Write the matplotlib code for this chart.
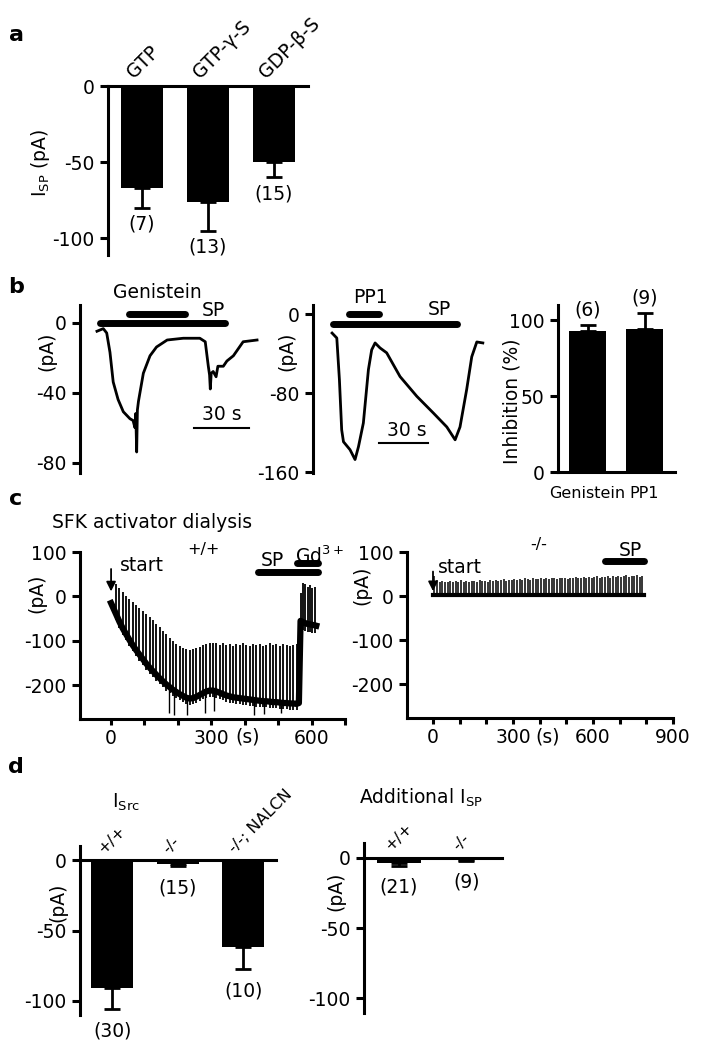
import numpy as np
import matplotlib
matplotlib.use("Agg")
import matplotlib.pyplot as plt

plt.rcParams['font.family'] = ['DejaVu Sans']
plt.rcParams['mathtext.default'] = 'regular'
plt.rcParams['axes.unicode_minus'] = False
plt.rcParams['font.size'] = 13.5

# ---------------- data ----------------
# a: I_SP with different G-protein nucleotides
a_cat = ['GTP', 'GTP-γ-S', 'GDP-β-S']
a_mean = [-67, -76.5, -50]
a_sem = [13, 18.5, 10]
a_n = ['(7)', '(13)', '(15)']

# b: example traces (time in s, current in pA)
gen_t = [0, 3.5, 5.4, 7.2, 9, 11.7, 14.6, 18.3, 20, 21, 21.5, 22, 22.4, 23, 23.5, 25.7, 29.4,
         33, 38.9, 47.8, 57, 60, 61.7, 62.4, 62.8, 63.3, 64.4, 66, 67, 70, 72, 75.6, 81, 88.7]
gen_i = [-5, -3.5, -6, -17, -34, -44, -51, -55, -56, -60, -52, -74, -50, -45, -42, -29, -19,
         -14, -10, -9, -9, -11, -25, -30, -38, -29, -28, -31, -25, -25, -22, -19, -11, -10]
gen_drug = [17.8, 48.9]
gen_sp = [1.7, 71]

pp1_t = [0, 2.9, 4.5, 5.9, 7, 11, 14.1, 16.2, 19.2, 22.3, 24.3, 26.4, 29.4, 33.5, 41.7, 52,
         62.2, 70.4, 75.5, 78.5, 82.6, 85.7, 88.8, 92.5]
pp1_i = [-19, -24, -66, -117, -129, -137, -147, -134, -110, -56, -36, -29, -34, -39, -63, -83,
         -100, -114, -127, -114, -76, -43, -28, -29]
pp1_drug = [10.4, 28.8]
pp1_sp = [0.6, 76.7]

inh_cat = ['Genistein', 'PP1']
inh_mean = [93, 94]
inh_sem = [4, 11]
inh_n = ['(6)', '(9)']

# c: SFK activator dialysis, +/+ (per test pulse: time, holding baseline, pulse peak)
wt_t = [15, 25, 35, 45, 55, 65, 75, 85, 95, 105, 115, 125, 135, 145, 155, 165, 175, 185, 195,
        205, 215, 225, 235, 245, 255, 265, 275, 285, 295, 305, 315, 325, 335, 345, 355, 365,
        375, 385, 395, 405, 415, 425, 435, 445, 455, 465, 475, 485, 495, 505, 515, 525, 535,
        545, 555]
wt_base = [-40, -57, -72, -85, -98, -110, -121, -131, -141, -151, -160, -168, -176, -184, -191,
           -198, -204, -210, -215, -220, -224, -228, -230, -229, -226, -222, -218, -214, -212,
           -212, -214, -217, -220, -223, -225, -227, -228, -229, -230, -231, -232, -233, -234,
           -235, -236, -236, -237, -238, -238, -239, -240, -240, -241, -241, -242]
wt_top = [28, 18, 10, 2, -6, -13, -20, -27, -33, -39, -46, -53, -61, -69, -77, -85, -93, -100,
          -107, -112, -116, -119, -121, -118, -116, -113, -110, -107, -105, -104, -106, -109,
          -106, -110, -107, -111, -108, -110, -106, -109, -112, -108, -110, -107, -111, -109,
          -106, -110, -108, -111, -107, -109, -112, -110, -108]
wt_dip_t = [172, 187, 227, 282, 307, 427, 457, 507]
wt_dip_i = [-262, -268, -266, -262, -258, -266, -264, -262]
wt_start = [0, -15]
gd_t = [562, 567, 574, 581, 588, 595, 602, 609, 614]
gd_base = [-240, -55, -58, -60, -62, -63, -64, -65, -66]
gd_spk_t = [567, 574, 581, 588, 595, 602, 609]
gd_top = [8, 31, 28, 22, 26, 20, 22]
wt_sp = [439, 618]
wt_gd = [555, 618]

# c: -/-
ko_t = [5, 15, 25, 35, 45, 55, 65, 75, 85, 95, 105, 115, 125, 135, 145, 155, 165, 175, 185, 195,
        205, 215, 225, 235, 245, 255, 265, 275, 285, 295, 305, 315, 325, 335, 345, 355, 365, 375,
        385, 395, 405, 415, 425, 435, 445, 455, 465, 475, 485, 495, 505, 515, 525, 535, 545, 555,
        565, 575, 585, 595, 605, 615, 625, 635, 645, 655, 665, 675, 685, 695, 705, 715, 725, 735,
        745, 755, 765, 775, 785]
ko_top = [45, 36, 33, 34, 32, 33, 35, 32, 34, 33, 36, 33, 34, 32, 35, 34, 33, 36, 34, 35, 33, 36,
          35, 37, 34, 36, 38, 35, 37, 36, 38, 36, 39, 37, 40, 38, 37, 40, 38, 39, 41, 38, 40, 39,
          41, 40, 38, 42, 40, 41, 39, 42, 40, 43, 41, 40, 43, 42, 44, 41, 43, 45, 42, 44, 43, 46,
          42, 45, 44, 46, 43, 45, 47, 44, 46, 45, 47, 44, 46]
ko_base = 2
ko_span = [0, 790]
ko_sp = [645, 790]

# d: I_Src and additional I_SP
src_cat = ['+/+', '-/-', '-/-; NALCN']
src_mean = [-90.5, -2.5, -62]
src_sem = [15, 1.5, 15.5]
src_n = ['(30)', '(15)', '(10)']

add_cat = ['+/+', '-/-']
add_mean = [-3.5, -1.5]
add_sem = [2.5, 0.8]
add_n = ['(21)', '(9)']

# ---------------- figure ----------------
W, H = 707, 1050
fig = plt.figure(figsize=(W / 100, H / 100), dpi=100)
LW = 2.2
FS = 13.5


def box(x0, y0, x1, y1):
    return fig.add_axes([x0 / W, 1 - y1 / H, (x1 - x0) / W, (y1 - y0) / H])


def ftext(x, y, s, **kw):
    kw.setdefault('ha', 'center')
    kw.setdefault('va', 'center')
    return fig.text(x / W, 1 - y / H, s, **kw)


def style(ax, bottom=False):
    ax.spines['top'].set_visible(False)
    ax.spines['right'].set_visible(False)
    ax.spines['bottom'].set_visible(bottom)
    ax.spines['left'].set_linewidth(LW)
    ax.spines['bottom'].set_linewidth(LW)
    ax.tick_params(axis='y', width=LW, length=5.5, pad=4, labelsize=FS)
    ax.tick_params(axis='x', width=LW, length=4, pad=3.5, labelsize=FS)
    ax.patch.set_visible(False)


def neg_bars(ax, cats, mean, sem, n, gap, catfs, dx):
    x = np.arange(len(mean))
    ax.bar(x, mean, 0.64, color='k', zorder=2)
    ax.errorbar(x, mean, yerr=[sem, [0] * len(sem)], fmt='none', ecolor='k',
                elinewidth=2, capsize=6, capthick=2, zorder=2)
    for xi, m, s, lab in zip(x, mean, sem, n):
        ax.annotate(lab, (xi, m - s), xytext=(0, -gap), textcoords='offset points',
                    ha='center', va='top', fontsize=FS, annotation_clip=False)
    for xi, c in zip(x, cats):
        ax.annotate(c, (xi + dx, 0), xytext=(0, 3), textcoords='offset points',
                    rotation=45, rotation_mode='anchor', ha='left', va='bottom',
                    fontsize=catfs, annotation_clip=False)
    ax.axhline(0, color='k', lw=LW, clip_on=False, zorder=3)
    ax.set_xticks([])


def drug_bar(ax, span, y):
    ax.plot(span, [y, y], color='k', lw=5, solid_capstyle='round', clip_on=False)


# panel letters
for lab, y in zip('abcd', [35, 287, 499, 767]):
    ftext(16, y, lab, fontsize=16, fontweight='bold')

# ---- a
ax = box(108, 86, 308, 255)
style(ax)
neg_bars(ax, a_cat, a_mean, a_sem, a_n, 5, FS, -0.08)
ax.set_xlim(-0.515, 2.515)
ax.set_ylim(-111, 0)
ax.set_yticks([0, -50, -100])
ftext(41, 163, 'I$_{SP}$ (pA)', rotation=90, fontsize=FS)

# ---- b left trace
ax = box(80, 305, 263, 473)
style(ax)
ax.plot(gen_t, gen_i, color='k', lw=2.0)
drug_bar(ax, gen_drug, 5)
drug_bar(ax, gen_sp, 0)
ax.plot([54, 84], [-60.5, -60.5], color='k', lw=1.5)
ax.text(69, -58, '30 s', ha='center', va='bottom', fontsize=FS)
ax.text(33.6, 17, 'Genistein', ha='center', va='center', fontsize=FS)
ax.text(64.5, 7, 'SP', ha='center', va='center', fontsize=FS)
ax.set_xlim(-9.4, 92)
ax.set_ylim(-86, 10)
ax.set_yticks([0, -40, -80])
ax.set_xticks([])
ftext(47, 351, '(pA)', rotation=90, fontsize=FS)

# ---- b middle trace
ax = box(313, 305, 490, 473)
style(ax)
ax.plot(pp1_t, pp1_i, color='k', lw=2.0)
drug_bar(ax, pp1_drug, 0)
drug_bar(ax, pp1_sp, -10)
ax.plot([28.8, 58.9], [-130, -130], color='k', lw=1.5)
ax.text(46, -118, '30 s', ha='center', va='center', fontsize=FS)
ax.text(23.3, 17, 'PP1', ha='center', va='center', fontsize=FS)
ax.text(65.6, 5, 'SP', ha='center', va='center', fontsize=FS)
ax.set_xlim(-11.7, 96.9)
ax.set_ylim(-160.6, 9.4)
ax.set_yticks([0, -80, -160])
ax.set_xticks([])
ftext(287, 351, '(pA)', rotation=90, fontsize=FS)

# ---- b right bars
ax = box(558, 305, 675, 472)
style(ax, bottom=True)
x = np.arange(len(inh_mean))
ax.bar(x, inh_mean, 0.65, color='k', zorder=2)
ax.errorbar(x, inh_mean, yerr=[[0] * 2, inh_sem], fmt='none', ecolor='k',
            elinewidth=2, capsize=6, capthick=2)
for xi, m, s, lab in zip(x, inh_mean, inh_sem, inh_n):
    ax.annotate(lab, (xi, m + s), xytext=(0, 4), textcoords='offset points',
                ha='center', va='bottom', fontsize=FS, annotation_clip=False)
ax.set_xlim(-0.52, 1.535)
ax.set_ylim(0, 110)
ax.set_yticks([0, 50, 100])
ax.set_xticks(x)
ax.set_xticklabels(inh_cat, fontsize=11.5)
ax.tick_params(axis='x', length=0, pad=10)
ftext(512, 401, 'Inhibition (%)', rotation=90, fontsize=FS)

# ---- c left (+/+)
ax = box(80, 552, 345, 719)
style(ax, bottom=True)
wt_low = [b - 14 for b in wt_base]
ax.vlines(wt_t, wt_low, wt_top, color='k', lw=1.3)
ax.vlines(wt_dip_t, [b - 5 for b in np.interp(wt_dip_t, wt_t, wt_base)], wt_dip_i, color='k', lw=1.0)
ax.plot([wt_start[0]] + wt_t + gd_t, [wt_start[1]] + wt_base + gd_base, color='k', lw=4.5,
        solid_joinstyle='round')
ax.vlines(gd_spk_t, [b - 18 for b in gd_base[1:-1]], gd_top, color='k', lw=1.3)
drug_bar(ax, wt_sp, 54)
drug_bar(ax, wt_gd, 76)
ax.annotate('', xy=(0, 5), xytext=(0, 68),
            arrowprops=dict(arrowstyle='-|>', color='k', lw=1.3, mutation_scale=14))
ax.text(27, 70, 'start', ha='left', va='center', fontsize=FS)
ax.text(484, 80, 'SP', ha='center', va='center', fontsize=FS)
ax.text(549, 90, 'Gd$^{3+}$', ha='left', va='center', fontsize=FS)
ax.text(276, 105, '+/+', ha='center', va='center', fontsize=11.5)
ax.set_xlim(-93, 698)
ax.set_ylim(-276, 100)
ax.set_yticks([100, 0, -100, -200])
ax.set_xticks(range(0, 800, 100))
ax.set_xticklabels(['0', '', '', '300', '', '', '600', ''])
ftext(248, 737, '(s)', fontsize=FS)
ftext(37, 593, '(pA)', rotation=90, fontsize=FS)
ftext(152, 523, 'SFK activator dialysis', fontsize=FS)

# ---- c right (-/-)
ax = box(407, 552, 673, 718)
style(ax, bottom=True)
ax.vlines(ko_t, ko_base - 5, ko_top, color='k', lw=1.1)
ax.plot(ko_span, [ko_base, ko_base], color='k', lw=3)
drug_bar(ax, ko_sp, 80)
ax.annotate('', xy=(0, 5), xytext=(0, 62),
            arrowprops=dict(arrowstyle='-|>', color='k', lw=1.3, mutation_scale=14))
ax.text(19, 66, 'start', ha='left', va='center', fontsize=FS)
ax.text(739, 104, 'SP', ha='center', va='center', fontsize=FS)
ax.text(397, 117, '-/-', ha='center', va='center', fontsize=11.5)
ax.set_xlim(-97.5, 900)
ax.set_ylim(-276, 100)
ax.set_yticks([100, 0, -100, -200])
ax.set_xticks(range(0, 1000, 100))
ax.set_xticklabels(['0', '', '', '300', '', '', '600', '', '', '900'])
ftext(548, 737, '(s)', fontsize=FS)
ftext(362, 585, '(pA)', rotation=90, fontsize=FS)

# ---- d left
ax = box(80, 846, 276, 1015)
style(ax)
neg_bars(ax, src_cat, src_mean, src_sem, src_n, 9, 11.5, -0.1)
ax.set_xlim(-0.49, 2.5)
ax.set_ylim(-110, 10)
ax.set_yticks([0, -50, -100])
ftext(58, 902, '(pA)', rotation=90, fontsize=FS)
ftext(126, 802, 'I$_{Src}$', fontsize=FS)

# ---- d right
ax = box(364, 843, 502, 1013)
style(ax)
neg_bars(ax, add_cat, add_mean, add_sem, add_n, 8, 11.5, -0.09)
ax.set_xlim(-0.52, 1.53)
ax.set_ylim(-110.7, 10.7)
ax.set_yticks([0, -50, -100])
ftext(336, 891, '(pA)', rotation=90, fontsize=FS)
ftext(421, 798, 'Additional I$_{SP}$', fontsize=FS)

fig.savefig('out.png', dpi=100)
